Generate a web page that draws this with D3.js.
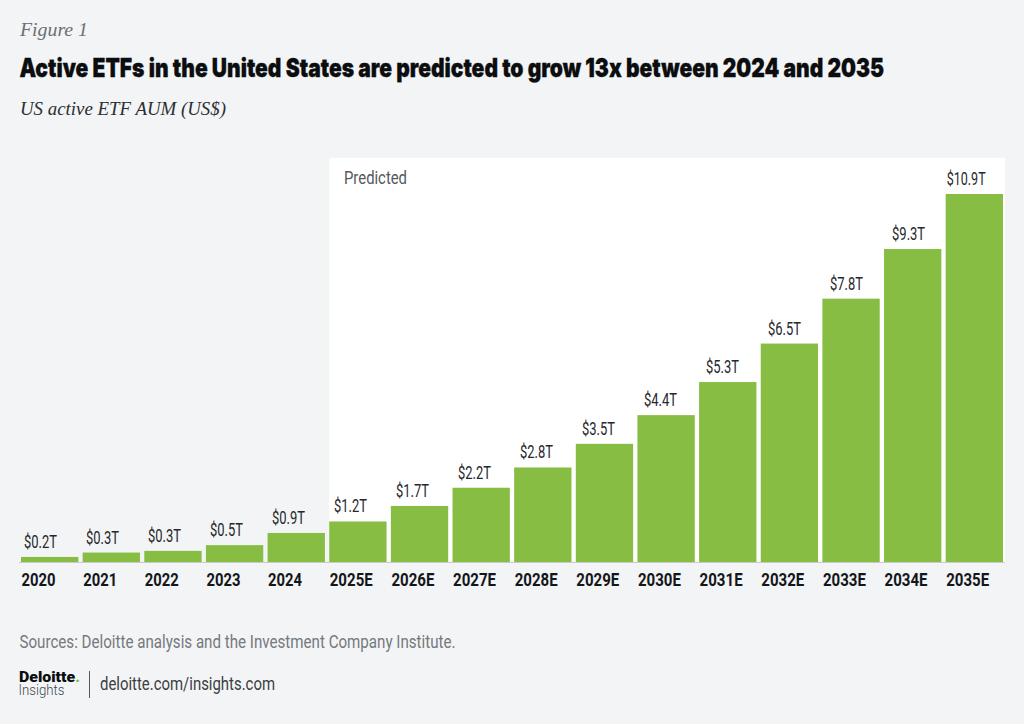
<!DOCTYPE html>
<html><head><meta charset="utf-8">
<script src="https://cdnjs.cloudflare.com/ajax/libs/d3/7.8.5/d3.min.js"></script>
<style>
html,body{margin:0;padding:0;background:#f3f4f6}
svg{display:block}
text{font-family:Roboto,sans-serif}
.serif{font-family:"Liberation Serif",serif;font-style:italic}
</style></head><body>
<svg id="c" width="1024" height="724"></svg>
<script>
const categories=["2020","2021","2022","2023","2024","2025E","2026E","2027E","2028E","2029E","2030E","2031E","2032E","2033E","2034E","2035E"];
const values=[0.15,0.28,0.33,0.5,0.86,1.2,1.66,2.2,2.8,3.5,4.35,5.33,6.47,7.8,9.27,10.9];
const labels=["$0.2T","$0.3T","$0.3T","$0.5T","$0.9T","$1.2T","$1.7T","$2.2T","$2.8T","$3.5T","$4.4T","$5.3T","$6.5T","$7.8T","$9.3T","$10.9T"];
const predictedFrom="2025E";

const svg=d3.select("#c");
const x=d3.scaleBand().domain(categories).range([21,1003]).paddingInner(0.07).paddingOuter(0);
const y=d3.scaleLinear().domain([0,10.9]).range([562,194]);

function fit(t,w){return t.attr("textLength",w).attr("lengthAdjust","spacingAndGlyphs");}

svg.append("rect").attr("x",x(predictedFrom)).attr("y",158).attr("width",1005-x(predictedFrom)).attr("height",404).attr("fill","#fff");

fit(svg.append("text").attr("class","serif").attr("x",20).attr("y",36).attr("font-size",19).attr("fill","#6a6f73").text("Figure 1"),68);

const title=svg.append("text").attr("font-size",26).attr("font-weight",900).attr("fill","#0b0d0f")
 .attr("stroke","#0b0d0f").attr("stroke-width",0.3).attr("style","font-family:Inter")
 .text("Active ETFs in the United States are predicted to grow 13x between 2024 and 2035");
title.attr("transform",`translate(19.5,77) scale(${865/title.node().getComputedTextLength()},1)`);

fit(svg.append("text").attr("class","serif").attr("x",20).attr("y",115).attr("font-size",19).attr("fill","#2b2e31").text("US active ETF AUM (US$)"),206);
fit(svg.append("text").attr("x",344).attr("y",184).attr("font-size",18).attr("fill","#55595c").text("Predicted"),63);

svg.selectAll("rect.bar").data(categories).join("rect").attr("class","bar")
 .attr("x",d=>x(d)).attr("width",x.bandwidth())
 .attr("y",(d,i)=>y(values[i])).attr("height",(d,i)=>y(0)-y(values[i])).attr("fill","#87bd43");

svg.selectAll("text.val").data(categories).join("text").attr("class","val")
 .attr("x",(d,i)=>x(d)+(labels[i].length>5?1:3+i*0.36)).attr("y",(d,i)=>y(values[i])-9).attr("font-size",17.5).attr("fill","#25282b")
 .text((d,i)=>labels[i]).each(function(d,i){fit(d3.select(this),labels[i].length>5?39:33);});

const ax=d3.axisBottom(x).tickSize(0).tickPadding(0);
const g=svg.append("g").attr("transform","translate(0,562)").call(ax);
g.select(".domain").remove();
svg.append("line").attr("x1",19).attr("x2",1005).attr("y1",562.5).attr("y2",562.5).attr("stroke","#c9cbc9").attr("stroke-width",1);
g.selectAll(".tick text").attr("text-anchor","start").attr("dy",0).attr("y",23.5)
 .attr("x",()=>-x.bandwidth()/2+0.5)
 .attr("font-family","Roboto").attr("font-size",17.5).attr("font-weight",700).attr("fill","#14171a")
 .each(function(d){fit(d3.select(this),d.length>4?43:34);});

fit(svg.append("text").attr("x",19.5).attr("y",648).attr("font-size",18).attr("fill","#75797d").text("Sources: Deloitte analysis and the Investment Company Institute."),436);

const logo=svg.append("g");
const dt=logo.append("text").attr("x",19).attr("y",682).attr("font-size",15).attr("font-weight",900).attr("fill","#0b0d0f");
dt.append("tspan").text("Deloitte");
dt.append("tspan").attr("fill","#87bd25").text(".");
fit(dt,61);
fit(logo.append("text").attr("x",18.5).attr("y",695).attr("font-size",15.5).attr("font-weight",300).attr("fill","#44484b").text("Insights"),46);
logo.append("line").attr("x1",89.5).attr("x2",89.5).attr("y1",671).attr("y2",698).attr("stroke","#55595c").attr("stroke-width",1);
fit(svg.append("text").attr("x",100).attr("y",690).attr("font-size",18.5).attr("fill","#3a3e41").text("deloitte.com/insights.com"),175);
</script></body></html>
